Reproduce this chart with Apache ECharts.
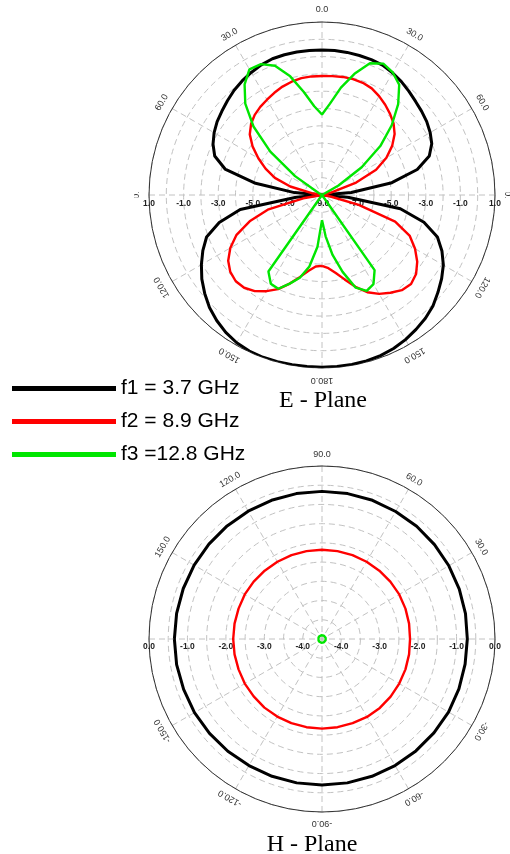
<!DOCTYPE html>
<html>
<head>
<meta charset="utf-8">
<script src="https://cdn.jsdelivr.net/npm/echarts@6/dist/echarts.min.js"></script>
<style>
  html, body { margin: 0; padding: 0; background: #ffffff; }
  #chart { width: 510px; height: 854px; }
</style>
</head>
<body>
<div id="chart"></div>
<script>
// Radiation patterns of the antenna (normalised gain, dB) at three frequencies.
const SERIES_NAMES = ['f1 = 3.7 GHz', 'f2 = 8.9 GHz', 'f3 =12.8 GHz'];

// E-plane: theta in degrees, 0 at boresight (top), positive clockwise.
const E_ANGLES = [-180, -175, -170, -165, -160, -155, -150, -145, -140, -135,
  -130, -125, -120, -115, -110, -105, -100, -95, -90, -85,
  -80, -75, -70, -65, -60, -55, -50, -45, -40, -35,
  -30, -25, -20, -15, -10, -5, 0, 5, 10, 15,
  20, 25, 30, 35, 40, 45, 50, 55, 60, 65,
  70, 75, 80, 85, 90, 95, 100, 105, 110, 115,
  120, 125, 130, 135, 140, 145, 150, 155, 160, 165,
  170, 175, 180];
const E_F1 = [0.95, 0.95, 0.96, 0.98, 0.98, 0.95, 0.86, 0.70, 0.47, 0.20,
  -0.15, -0.52, -0.95, -1.40, -1.90, -2.85, -4.20, -7.50, -9.00, -7.40,
  -5.10, -3.20, -2.40, -2.05, -1.80, -1.60, -1.45, -1.28, -1.10, -0.95,
  -0.82, -0.70, -0.62, -0.61, -0.61, -0.62, -0.62, -0.62, -0.63, -0.65,
  -0.67, -0.72, -0.85, -1.00, -1.18, -1.35, -1.48, -1.61, -1.78, -2.00,
  -2.40, -3.30, -4.90, -7.30, -9.00, -7.50, -4.40, -2.90, -1.90, -1.35,
  -0.90, -0.56, -0.25, 0.07, 0.30, 0.48, 0.65, 0.79, 0.88, 0.93,
  0.95, 0.95, 0.95];
const E_F2 = [-4.90, -4.85, -4.55, -4.10, -3.55, -3.00, -2.58, -2.22, -2.00, -1.95,
  -2.08, -2.38, -2.88, -3.55, -4.55, -5.80, -7.90, -9.00, -9.00, -9.00,
  -8.40, -7.10, -6.10, -5.40, -4.75, -4.10, -3.55, -3.20, -2.95, -2.78,
  -2.64, -2.48, -2.33, -2.22, -2.14, -2.12, -2.12, -2.10, -2.07, -2.07,
  -2.10, -2.20, -2.40, -2.63, -2.88, -3.15, -3.52, -4.05, -4.70, -5.55,
  -6.90, -8.50, -9.00, -9.00, -9.00, -9.00, -8.50, -6.80, -4.50, -3.40,
  -2.79, -2.28, -1.90, -1.72, -1.82, -2.10, -2.40, -2.80, -3.35, -3.95,
  -4.42, -4.75, -4.90];
const E_F3 = [-7.55, -6.00, -4.80, -4.05, -3.55, -3.02, -3.08, -3.60, -9.00, -9.00,
  -9.00, -9.00, -9.00, -9.00, -9.00, -9.00, -9.00, -9.00, -9.00, -9.00,
  -9.00, -9.00, -9.00, -9.00, -8.80, -7.10, -5.10, -3.40, -2.10, -1.20,
  -0.61, -0.65, -1.05, -1.90, -2.95, -3.85, -4.35, -3.70, -2.70, -1.75,
  -0.90, -0.62, -0.82, -1.22, -2.15, -3.30, -4.60, -6.20, -7.90, -9.00,
  -9.00, -9.00, -9.00, -9.00, -9.00, -9.00, -9.00, -9.00, -9.00, -9.00,
  -9.00, -9.00, -9.00, -9.00, -9.00, -3.70, -3.05, -2.88, -3.30, -4.40,
  -5.48, -6.60, -7.55];

// H-plane: phi in degrees, 0 to the right, positive counter-clockwise.
const H_ANGLES = [-180, -170, -160, -150, -140, -130, -120, -110, -100, -90,
  -80, -70, -60, -50, -40, -30, -20, -10, 0, 10,
  20, 30, 40, 50, 60, 70, 80, 90, 100, 110,
  120, 130, 140, 150, 160, 170, 180];
const H_F1 = [-0.66, -0.66, -0.67, -0.67, -0.68, -0.69, -0.70, -0.70, -0.70, -0.70,
  -0.70, -0.70, -0.70, -0.70, -0.70, -0.70, -0.71, -0.72, -0.72, -0.71,
  -0.70, -0.69, -0.68, -0.67, -0.67, -0.66, -0.66, -0.66, -0.66, -0.66,
  -0.66, -0.66, -0.66, -0.66, -0.66, -0.66, -0.66];
const H_F2 = [-2.19, -2.19, -2.19, -2.18, -2.18, -2.17, -2.17, -2.17, -2.17, -2.17,
  -2.17, -2.17, -2.16, -2.16, -2.17, -2.18, -2.19, -2.20, -2.21, -2.20,
  -2.19, -2.18, -2.18, -2.18, -2.18, -2.18, -2.18, -2.18, -2.18, -2.18,
  -2.18, -2.18, -2.18, -2.18, -2.19, -2.19, -2.19];
const H_F3 = [-4.40, -4.40, -4.40, -4.40, -4.40, -4.40, -4.40, -4.40, -4.40, -4.40,
  -4.40, -4.40, -4.40, -4.40, -4.40, -4.40, -4.40, -4.40, -4.40, -4.40,
  -4.40, -4.40, -4.40, -4.40, -4.40, -4.40, -4.40, -4.40, -4.40, -4.40,
  -4.40, -4.40, -4.40, -4.40, -4.40, -4.40, -4.40];

// Axis tick labels
const E_RADIAL_TICKS = [1, -1, -3, -5, -7, -9];
const H_RADIAL_TICKS = [0, -1, -2, -3, -4];
const E_ANGLE_TICKS = [-150, -120, -60, -30, 0, 30, 60, 120, 150, 180];
const E_SIDE_TICKS = [-90, 90];
const H_ANGLE_TICKS = [-150, -120, -90, -60, -30, 30, 60, 90, 120, 150];

const COLORS = ['#000000', '#ff0000', '#00e600'];
const WIDTHS = [3, 2.4, 2.4];
const SANS = "'Liberation Sans', Arial, sans-serif";
const SERIF = "'Liberation Serif', 'Times New Roman', serif";

const chart = echarts.init(document.getElementById('chart'), null, { renderer: 'canvas' });

const gridLine = { show: true, lineStyle: { color: '#c2c2c2', width: 1, type: [6, 4] } };

function pairs(values, angles) {
  return values.map((v, i) => [v, angles[i]]);
}

const E_SETS = [E_F1, E_F2, E_F3];
const H_SETS = [H_F1, H_F2, H_F3];
const series = [];
E_SETS.forEach((vals, k) => series.push({
  name: SERIES_NAMES[k], type: 'line', coordinateSystem: 'polar', polarIndex: 0,
  data: pairs(vals, E_ANGLES), showSymbol: false, smooth: false, clip: false,
  color: COLORS[k], itemStyle: { color: COLORS[k] },
  lineStyle: { color: COLORS[k], width: WIDTHS[k] }, z: 3 + k
}));
H_SETS.forEach((vals, k) => series.push({
  name: SERIES_NAMES[k], type: 'line', coordinateSystem: 'polar', polarIndex: 1,
  data: pairs(vals, H_ANGLES), showSymbol: false, smooth: false, clip: false,
  color: COLORS[k], itemStyle: { color: COLORS[k] },
  lineStyle: { color: COLORS[k], width: WIDTHS[k] }, z: 3 + k
}));

const angleBase = {
  type: 'value', min: -180, max: 180, interval: 30,
  axisLine: { show: true, lineStyle: { color: '#333333', width: 1 } },
  axisTick: { show: false }, axisLabel: { show: false }, splitLine: gridLine
};
const radiusBase = {
  type: 'value',
  axisLine: { show: false }, axisTick: { show: false }, axisLabel: { show: false },
  splitLine: gridLine
};

chart.setOption({
  animation: false,
  backgroundColor: '#ffffff',
  polar: [
    { center: [322, 195], radius: 173 },
    { center: [322, 639], radius: 173 }
  ],
  angleAxis: [
    Object.assign({ polarIndex: 0, startAngle: -90, clockwise: true }, angleBase),
    Object.assign({ polarIndex: 1, startAngle: 180, clockwise: false }, angleBase)
  ],
  radiusAxis: [
    Object.assign({ polarIndex: 0, min: -9, max: 1, interval: 1 }, radiusBase),
    Object.assign({ polarIndex: 1, min: -4.5, max: 0, interval: 0.5 }, radiusBase)
  ],
  legend: {
    data: SERIES_NAMES, orient: 'vertical', left: 12, top: 378, padding: 0,
    icon: 'rect', itemWidth: 104, itemHeight: 5, itemGap: 12, selectedMode: false,
    textStyle: { fontFamily: SANS, fontSize: 21, color: '#000000' }
  },
  series: series
});

// Tick labels, placed through each polar system's own mapping.
function toPx(seriesIndex, r, a) {
  return chart.convertToPixel({ seriesIndex: seriesIndex }, [r, a]);
}

function label(x, y, text, font, rotation, fill) {
  return {
    type: 'text', x: x, y: y, rotation: rotation || 0, z: 1, silent: true,
    style: {
      text: text, font: font, fill: fill || '#333333',
      align: 'center', verticalAlign: 'middle',
      textAlign: 'center', textVerticalAlign: 'middle'
    }
  };
}

function angleLabelPos(seriesIndex, rMin, rMax, a, offset) {
  const c = toPx(seriesIndex, rMin, a);
  const p = toPx(seriesIndex, rMax, a);
  const dx = p[0] - c[0], dy = p[1] - c[1];
  const R = Math.sqrt(dx * dx + dy * dy);
  const k = (R + offset) / R;
  const rot = Math.atan2(-dy, dx) - Math.PI / 2;
  return { x: c[0] + dx * k, y: c[1] + dy * k, rot: rot };
}

const graphics = [];
const ANGLE_FONT = '9px ' + SANS;
const RADIAL_FONT = 'bold 8.5px ' + SANS;

// E-plane angle labels (magnitudes on both sides)
E_ANGLE_TICKS.forEach(a => {
  const q = angleLabelPos(0, -9, 1, a, 12);
  graphics.push(label(q.x, q.y, Math.abs(a).toFixed(1), ANGLE_FONT, q.rot));
});
// H-plane angle labels
H_ANGLE_TICKS.forEach(a => {
  const q = angleLabelPos(3, -4.5, 0, a, 11);
  graphics.push(label(q.x, q.y, a.toFixed(1), ANGLE_FONT, q.rot));
});

// E-plane radial labels along the horizontal diameter
const eCenter = toPx(0, -9, 0);
E_RADIAL_TICKS.forEach(v => {
  const sides = v === -9 ? [90] : [-90, 90];
  sides.forEach(a => {
    const p = toPx(0, v, a);
    graphics.push(label(p[0], eCenter[1] + 9, v.toFixed(1), RADIAL_FONT, 0, '#222222'));
  });
});
// H-plane radial labels along the horizontal diameter
const hCenter = toPx(3, -4.5, 0);
H_RADIAL_TICKS.forEach(v => {
  [180, 0].forEach(a => {
    const p = toPx(3, v, a);
    graphics.push(label(p[0], hCenter[1] + 8, v.toFixed(1), RADIAL_FONT, 0, '#222222'));
  });
});

// Plane titles
graphics.push(label(eCenter[0] + 1, 401, 'E - Plane', '24px ' + SERIF, 0, '#000000'));
graphics.push(label(hCenter[0] - 10, 845, 'H - Plane', '24px ' + SERIF, 0, '#000000'));

chart.setOption({ graphic: graphics });

// The 90-degree E-plane labels are only partly shown at the frame edges.
E_SIDE_TICKS.forEach(a => {
  const q = angleLabelPos(0, -9, 1, a, 12);
  const t = new echarts.graphic.Text({
    x: q.x, y: q.y, rotation: q.rot, z: 1, silent: true,
    style: { text: Math.abs(a).toFixed(1), font: ANGLE_FONT, fill: '#333333', align: 'center', verticalAlign: 'middle' }
  });
  t.setClipPath(new echarts.graphic.Rect({ shape: { x: -2.5, y: -3, width: 5, height: 6 } }));
  chart.getZr().add(t);
});
</script>
</body>
</html>
